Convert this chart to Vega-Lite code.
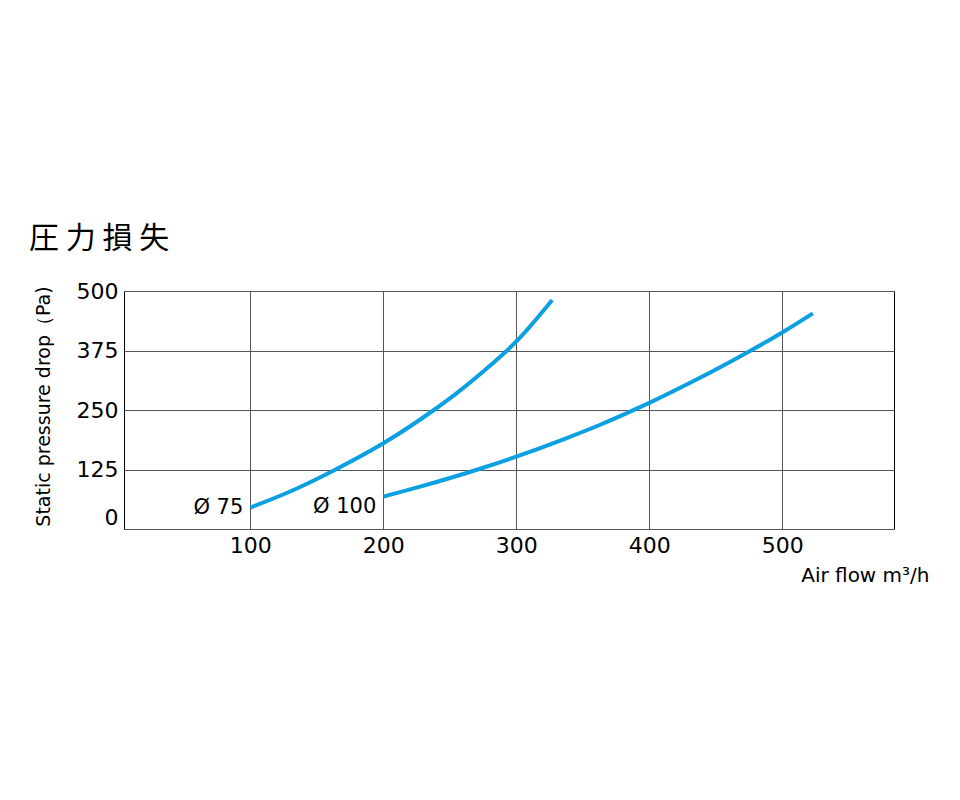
{
  "$schema": "https://vega.github.io/schema/vega-lite/v6.json",
  "autosize": "none",
  "padding": {"left": 124, "top": 291, "right": 66, "bottom": 271},
  "width": 770,
  "height": 238,
  "background": "white",
  "title": {
    "text": "圧 力 損 失",
    "font": "Noto Sans CJK JP",
    "fontSize": 30,
    "fontWeight": "normal",
    "color": "#000",
    "anchor": "start",
    "frame": "group",
    "baseline": "bottom",
    "dx": -95,
    "dy": 40,
    "offset": 36
  },
  "config": {
    "view": {"stroke": "#000", "strokeWidth": 1},
    "axis": {
      "labelFont": "DejaVu Sans",
      "titleFont": "DejaVu Sans",
      "labelColor": "#000",
      "titleColor": "#000",
      "titleFontWeight": "normal",
      "domain": false,
      "ticks": false,
      "gridColor": "#555",
      "gridWidth": 1,
      "gridOpacity": 1
    }
  },
  "datasets": {
    "curves": [
      {"series": "Ø 75", "flow": 100, "pressure": 45},
      {"series": "Ø 75", "flow": 126, "pressure": 74},
      {"series": "Ø 75", "flow": 162, "pressure": 122},
      {"series": "Ø 75", "flow": 200, "pressure": 180},
      {"series": "Ø 75", "flow": 238, "pressure": 250},
      {"series": "Ø 75", "flow": 255, "pressure": 285},
      {"series": "Ø 75", "flow": 281, "pressure": 345},
      {"series": "Ø 75", "flow": 293, "pressure": 375},
      {"series": "Ø 75", "flow": 300, "pressure": 394},
      {"series": "Ø 75", "flow": 327, "pressure": 481},
      {"series": "Ø 100", "flow": 200, "pressure": 68},
      {"series": "Ø 100", "flow": 229, "pressure": 90},
      {"series": "Ø 100", "flow": 271, "pressure": 125},
      {"series": "Ø 100", "flow": 300, "pressure": 152},
      {"series": "Ø 100", "flow": 337, "pressure": 190},
      {"series": "Ø 100", "flow": 364, "pressure": 220},
      {"series": "Ø 100", "flow": 386, "pressure": 247},
      {"series": "Ø 100", "flow": 400, "pressure": 265},
      {"series": "Ø 100", "flow": 437, "pressure": 316},
      {"series": "Ø 100", "flow": 462, "pressure": 353},
      {"series": "Ø 100", "flow": 477, "pressure": 376},
      {"series": "Ø 100", "flow": 500, "pressure": 413},
      {"series": "Ø 100", "flow": 523, "pressure": 453}
    ],
    "labels": [
      {"series": "Ø 75", "flow": 100, "pressure": 45},
      {"series": "Ø 100", "flow": 200, "pressure": 47}
    ]
  },
  "encoding": {
    "x": {
      "field": "flow",
      "type": "quantitative",
      "scale": {"domain": [5, 584], "nice": false, "zero": false},
      "axis": {
        "values": [100, 200, 300, 400, 500],
        "labelFontSize": 22,
        "labelPadding": 6,
        "title": "Air flow m³/h",
        "titleFontSize": 20,
        "titleAlign": "right",
        "titleAnchor": "end",
        "titleBaseline": "alphabetic",
        "titleX": 805,
        "titleY": 52
      }
    },
    "y": {
      "field": "pressure",
      "type": "quantitative",
      "scale": {"domain": [0, 500], "nice": false},
      "axis": {
        "values": [0, 125, 250, 375, 500],
        "labelFontSize": 22,
        "labelPadding": 6,
        "labelBaseline": {"condition": {"test": "datum.value === 0", "value": "bottom"}, "value": "middle"},
        "title": "Static pressure drop（Pa)",
        "titleFontSize": 19,
        "titleAngle": 270,
        "titleAlign": "center",
        "titleBaseline": "middle",
        "titleX": -81,
        "titleY": 115
      }
    }
  },
  "layer": [
    {
      "data": {"name": "curves"},
      "mark": {"type": "line", "interpolate": "monotone", "strokeWidth": 4, "color": "#0aa0e2", "strokeCap": "butt"},
      "encoding": {"detail": {"field": "series", "type": "nominal"}}
    },
    {
      "data": {"name": "labels"},
      "mark": {"type": "text", "align": "right", "baseline": "middle", "dx": -7, "fontSize": 21, "font": "DejaVu Sans", "color": "#000"},
      "encoding": {"text": {"field": "series", "type": "nominal"}}
    }
  ]
}
